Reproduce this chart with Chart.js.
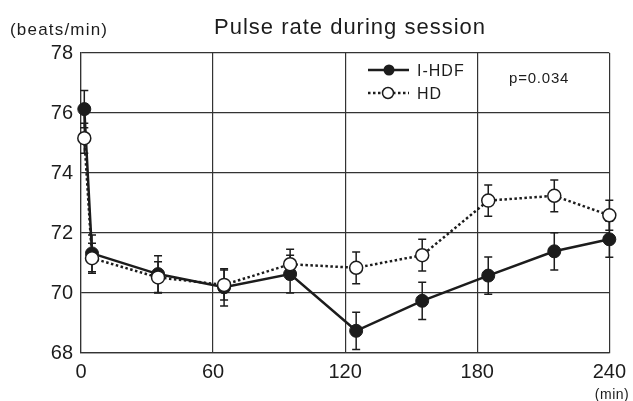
<!DOCTYPE html>
<html>
<head>
<meta charset="utf-8">
<script src="https://cdn.jsdelivr.net/npm/chart.js@4/dist/chart.umd.min.js"></script>
<style>
  body { margin: 0; background: #fff; }
  #wrap { width: 633px; height: 401px; }
</style>
</head>
<body>
<div id="wrap"><canvas id="myChart" width="633" height="401"></canvas></div>
<script>
// time points (min)
var times = [1.5, 5, 35, 65, 95, 125, 155, 185, 215, 240];
// I-HDF mean and error
var hdfMean = [76.13, 71.32, 70.63, 70.19, 70.63, 68.74, 69.74, 70.58, 71.39, 71.79];
var hdfErr = [0.62, 0.61, 0.61, 0.62, 0.63, 0.62, 0.62, 0.62, 0.62, 0.6];
// HD mean and error
var hdMean = [75.16, 71.16, 70.52, 70.27, 70.96, 70.84, 71.26, 73.08, 73.24, 72.59];
var hdErr = [0.5, 0.5, 0.52, 0.5, 0.5, 0.53, 0.53, 0.52, 0.53, 0.5];
var xTicks = [0, 60, 120, 180, 240];
var yTicks = [68, 70, 72, 74, 76, 78];

var ink = '#1c1c1c';
Chart.defaults.font.family = '"Liberation Sans", Arial, sans-serif';
Chart.defaults.color = ink;

const toPoints = (xs, ys) => xs.map((x, i) => ({ x: x, y: ys[i] }));

// text helper
const txt = (ctx, s, x, y, size, align, spacing) => {
    ctx.save();
    ctx.font = size + 'px "Liberation Sans", Arial, sans-serif';
    ctx.fillStyle = ink;
    ctx.textAlign = align;
    ctx.textBaseline = 'alphabetic';
    ctx.letterSpacing = (spacing || 0) + 'px';
    ctx.fillText(s, x, y);
    ctx.restore();
};

const extras = {
    id: 'extras',
    beforeDatasetsDraw(chart) {
        // error bars
        var ctx = chart.ctx, xs = chart.scales.x, ys = chart.scales.y;
        var sets = [[hdfMean, hdfErr], [hdMean, hdErr]];
        ctx.save();
        ctx.strokeStyle = ink;
        ctx.lineWidth = 1.5;
        sets.forEach(function (s) {
            times.forEach(function (t, i) {
                var px = xs.getPixelForValue(t);
                var top = ys.getPixelForValue(s[0][i] + s[1][i]);
                var bot = ys.getPixelForValue(s[0][i] - s[1][i]);
                ctx.beginPath();
                ctx.moveTo(px, top); ctx.lineTo(px, bot);
                ctx.moveTo(px - 4, top); ctx.lineTo(px + 4, top);
                ctx.moveTo(px - 4, bot); ctx.lineTo(px + 4, bot);
                ctx.stroke();
            });
        });
        ctx.restore();
    },
    afterDraw(chart) {
        var ctx = chart.ctx;
        txt(ctx, 'Pulse rate during session', 350, 34, 22, 'center', 1);
        txt(ctx, '(beats/min)', 10, 35, 17, 'left', 1.2);
        txt(ctx, '(min)', 612, 399, 14, 'center', 0.5);
        txt(ctx, 'p=0.034', 509, 83, 15, 'left', 0.8);

        // legend
        ctx.save();
        ctx.strokeStyle = ink;
        ctx.lineWidth = 2.5;
        ctx.beginPath(); ctx.moveTo(368, 70); ctx.lineTo(409, 70); ctx.stroke();
        ctx.fillStyle = ink;
        ctx.beginPath(); ctx.arc(389, 70, 5.5, 0, Math.PI * 2); ctx.fill();
        ctx.setLineDash([2.5, 2.5]);
        ctx.beginPath(); ctx.moveTo(368, 93); ctx.lineTo(409, 93); ctx.stroke();
        ctx.setLineDash([]);
        ctx.lineWidth = 1.5;
        ctx.fillStyle = '#fff';
        ctx.beginPath(); ctx.arc(388, 93, 5.5, 0, Math.PI * 2); ctx.fill(); ctx.stroke();
        ctx.restore();
        txt(ctx, 'I-HDF', 417, 76, 16, 'left', 1);
        txt(ctx, 'HD', 417, 99, 16, 'left', 1);
    }
};

var ctx = document.getElementById('myChart').getContext('2d');
var chart = new Chart(ctx, {
    type: 'line',
    data: {
        datasets: [{
            label: 'HD',
            data: toPoints(times, hdMean),
            borderColor: ink,
            borderWidth: 2.5,
            borderDash: [2.5, 2.5],
            pointRadius: 6.5,
            pointBorderWidth: 1.5,
            pointBackgroundColor: '#fff',
            pointBorderColor: ink,
            clip: false,
            order: 0
        }, {
            label: 'I-HDF',
            data: toPoints(times, hdfMean),
            borderColor: ink,
            borderWidth: 2.5,
            pointRadius: 6.5,
            pointBorderWidth: 1,
            pointBackgroundColor: ink,
            pointBorderColor: ink,
            clip: false,
            order: 1
        }]
    },
    options: {
        responsive: false,
        animation: false,
        events: [],
        layout: { padding: { top: 53, left: 0, right: 20, bottom: 0 } },
        plugins: { legend: { display: false }, title: { display: false }, tooltip: { enabled: false } },
        scales: {
            x: {
                type: 'linear',
                min: 0, max: 240,
                afterBuildTicks: (s) => { s.ticks = xTicks.map(v => ({ value: v })); },
                afterFit: (s) => { s.height = 48; },
                grid: { color: '#333', lineWidth: 1.2, drawTicks: false },
                border: { color: '#333', width: 1.2 },
                ticks: { font: { size: 20 }, padding: 7, color: ink, maxRotation: 0 }
            },
            y: {
                min: 68, max: 78,
                afterBuildTicks: (s) => { s.ticks = yTicks.map(v => ({ value: v })); },
                afterFit: (s) => { s.width = 81; },
                grid: { color: '#333', lineWidth: 1.2, drawTicks: false },
                border: { color: '#333', width: 1.2 },
                ticks: { font: { size: 20 }, padding: 8, color: ink }
            }
        }
    },
    plugins: [extras]
});
</script>
</body>
</html>
